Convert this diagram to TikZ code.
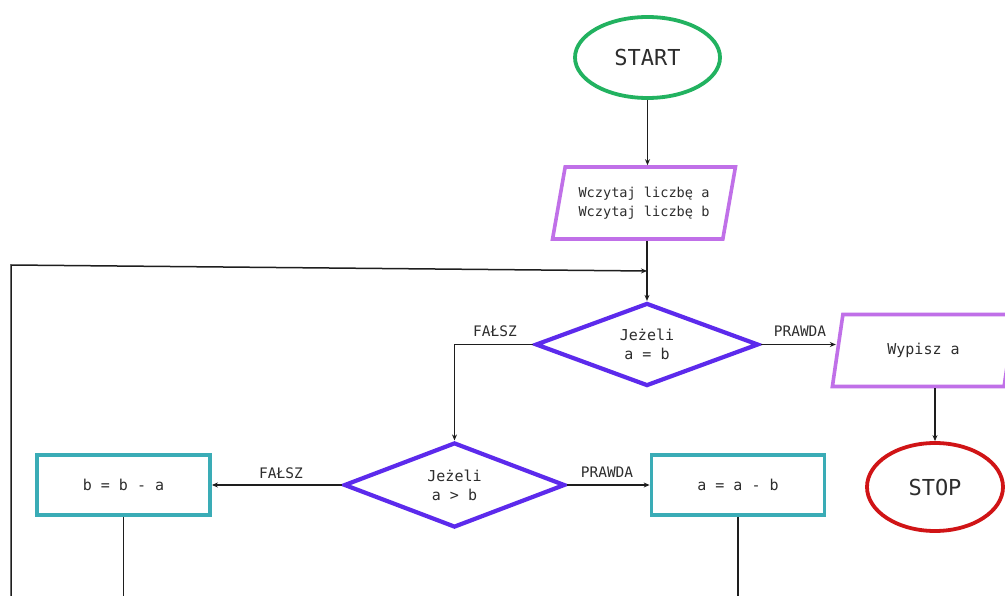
\documentclass[tikz,border=0pt]{standalone}
\usepackage{fontspec}
\setmonofont{DejaVu Sans Mono}
\usetikzlibrary{shapes.geometric,arrows.meta}
\definecolor{cgreen}{RGB}{34,178,96}
\definecolor{cpurple}{RGB}{192,112,232}
\definecolor{cviolet}{RGB}{92,42,236}
\definecolor{cteal}{RGB}{58,172,182}
\definecolor{cred}{RGB}{208,20,22}
\definecolor{ctext}{RGB}{45,45,45}
\definecolor{cline}{RGB}{30,30,30}
\tikzset{
  txt/.style={text=ctext,font=\ttfamily\fontsize{15}{19}\selectfont,align=center},
  term/.style={txt,ellipse,line width=3.8pt,inner sep=0pt,font=\ttfamily\fontsize{22}{26}\selectfont},
  iobox/.style={txt,trapezium,trapezium left angle=72,trapezium right angle=108,
     trapezium stretches=true,draw=cpurple,line width=3.6pt,inner sep=0pt,
     minimum width=183pt,minimum height=72pt},
  decision/.style={txt,diamond,draw=cviolet,line width=4.2pt,inner sep=0pt,aspect=2.6},
  proc/.style={txt,rectangle,draw=cteal,line width=3.8pt,minimum width=173pt,minimum height=60pt},
  lbl/.style={txt,font=\ttfamily\fontsize{14.5}{17}\selectfont},
  conn/.style={draw=cline,line width=1.5pt},
  arr/.style={conn,-{Stealth[length=6pt,width=5pt]}}
}
\begin{document}
\begin{tikzpicture}[x=1pt,y=-1pt]
\clip (0,0) rectangle (1005,596);
\fill[white] (0,0) rectangle (1005,596);
\node[term,draw=cgreen,minimum width=145pt,minimum height=81pt] (start) at (647.5,57.5) {START};
\node[iobox,font=\ttfamily\fontsize{13.6}{19}\selectfont] (in) at (644,203) {Wczytaj liczbę a\\Wczytaj liczbę b};
\node[decision,minimum width=223pt,minimum height=83pt] (d1) at (647,344.5) {Jeżeli\\a = b};
\node[iobox] (out) at (923.5,350.5) {Wypisz a};
\node[term,draw=cred,minimum width=136pt,minimum height=88pt] (stop) at (935,487) {STOP};
\node[decision,minimum width=221pt,minimum height=85pt] (d2) at (454.5,485) {Jeżeli\\a > b};
\node[proc] (b1) at (123.5,485) {b = b - a};
\node[proc] (b2) at (738,485) {a = a - b};
\node[lbl] (f1) at (495,331) {FAŁSZ};
\node[lbl] (p1) at (800,331) {PRAWDA};
\node[lbl] (f2) at (281,473) {FAŁSZ};
\node[lbl] (p2) at (607,472) {PRAWDA};
\coordinate (join) at (647,271);
\coordinate (lc) at (11,265);
\coordinate (lb) at (11,600);
\coordinate (e1) at (123.5,600);
\coordinate (e2) at (738,600);
\draw[arr] (start.south) -- (start.south |- in.north);
\draw[arr] (in.south -| d1.north) -- (d1.north);
\draw[arr] (lb) -- (lc) -- (join);
\draw[arr] (d1.west) -| (d2.north);
\draw[arr] (d1.east) -- (d1.east -| out.west);
\draw[arr] (stop.north |- out.south) -- (stop.north);
\draw[arr] (d2.west) -- (b1.east);
\draw[arr] (d2.east) -- (b2.west);
\draw[conn] (b1.south) -- (e1);
\draw[conn] (b2.south) -- (e2);
\end{tikzpicture}
\end{document}
